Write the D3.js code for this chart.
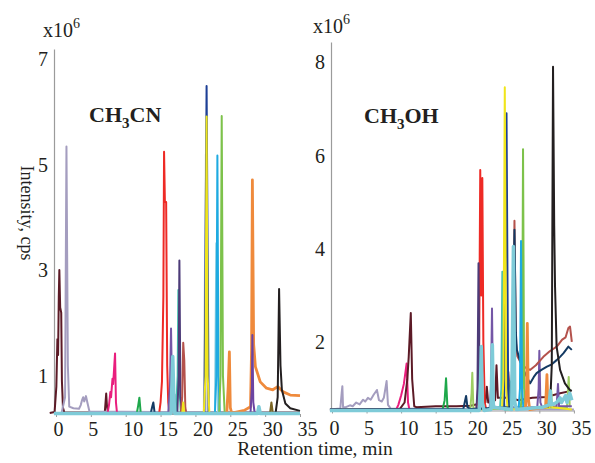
<!DOCTYPE html>
<html>
<head>
<meta charset="utf-8">
<script src="https://cdn.jsdelivr.net/npm/d3@7"></script>
<style>
  body { margin: 0; background: #fff; }
  svg text { font-family: "Liberation Serif", "Times New Roman", serif; fill: #231f20; }
</style>
</head>
<body>
<div class="canvas"></div>
<script>
// DATA: [retention time (min), intensity (x10^6 cps)]
const timeTicks = [0, 5, 10, 15, 20, 25, 30, 35];
const acnTicks = [1, 3, 5, 7];
const meohTicks = [2, 4, 6, 8];

// CH3CN panel
const acnSilver = [[21.2,0.3],[21.5,5.2],[21.7,0.3]];
const acnMaroon = [[-0.9,0.3],[-0.2,0.32],[0.05,0.8],[0.2,1.7],[0.3,1.4],[0.4,2.5],[0.48,3.01],[0.6,2.3],[0.75,2.2],[0.85,0.9],[1.0,0.4],[1.2,0.31],[7.0,0.31],[7.2,0.67],[7.3,0.45],[7.45,0.31],[35,0.31]];
const acnLavender = [[0.8,0.3],[1.3,0.6],[1.5,5.35],[1.7,1.2],[1.9,0.42],[2.5,0.39],[3.3,0.38],[3.55,0.45],[3.75,0.55],[3.9,0.6],[4.05,0.52],[4.3,0.62],[4.5,0.5],[4.8,0.33],[35,0.3]];
const acnPink = [[7.4,0.3],[7.6,0.45],[7.8,0.7],[7.9,0.6],[8.1,0.95],[8.2,0.85],[8.47,1.43],[8.6,0.5],[8.75,0.3]];
const acnGreen = [[11.6,0.3],[11.8,0.45],[11.96,0.59],[12.15,0.3]];
const acnNavy = [[13.6,0.3],[13.8,0.42],[13.96,0.5],[14.15,0.3]];
const acnRed = [[14.8,0.3],[15.0,0.5],[15.2,0.9],[15.4,2.5],[15.5,5.25],[15.62,4.3],[15.8,4.3],[15.95,1.2],[16.1,0.5],[16.3,0.3]];
const acnPurple = [[16.1,0.3],[16.35,0.8],[16.5,1.9],[16.65,0.7],[16.8,0.35],[17.0,0.65],[17.1,0.3]];
const acnTeal = [[17.2,0.3],[17.45,1.0],[17.55,2.63],[17.7,0.8],[17.9,0.3]];
const acnIndigo = [[17.4,0.3],[17.6,1.0],[17.7,3.19],[17.85,0.6],[18.1,0.3]];
const acnBrick = [[17.9,0.3],[18.1,0.6],[18.25,1.63],[18.4,1.3],[18.55,0.4],[18.7,0.3]];
const acnBlue = [[21.3,0.3],[21.6,6.5],[21.9,0.3]];
const acnYellow = [[18.1,0.3],[18.25,0.5],[18.4,0.3],[21.2,0.3],[21.45,1.0],[21.6,5.92],[21.75,1.0],[22.0,0.3]];
const acnPaleBlue = [[22.8,0.3],[23.0,3.52],[23.25,0.3]];
const acnSky = [[22.8,0.3],[23.0,1.0],[23.15,5.18],[23.3,1.0],[23.5,0.3]];
const acnLime = [[23.4,0.3],[23.6,1.0],[23.77,5.93],[23.95,1.0],[24.2,0.3]];
const acnOrange = [[24.5,0.3],[24.7,0.8],[24.87,1.46],[25.0,0.4],[25.2,0.3],[27.0,0.35],[27.9,0.42],[28.05,1.5],[28.17,4.72],[28.35,1.6],[28.6,1.18],[29.3,0.89],[30.2,0.77],[31.1,0.74],[31.8,0.8],[32.6,0.7],[33.6,0.64],[35,0.63]];
const acnViolet = [[27.9,0.3],[28.1,0.8],[28.17,1.78],[28.3,0.5],[28.5,0.3]];
const acnBlack = [[31.5,0.3],[31.8,0.6],[32.0,2.65],[32.2,1.2],[32.4,0.74],[32.9,0.48],[33.6,0.39],[35,0.34]];
const acnOlive = [[30.7,0.3],[30.9,0.5],[31.1,0.3]];
const acnCyan = [[-0.3,0.29],[16.5,0.29],[16.65,0.9],[16.75,1.37],[16.9,0.6],[17.05,0.29],[28.9,0.29],[29.1,0.42],[29.3,0.29],[35,0.29]];

// CH3OH panel
const meohLavender = [[-0.3,0.55],[1.2,0.57],[1.4,0.9],[1.5,1.05],[1.6,0.6],[2.0,0.6],[2.6,0.64],[3.0,0.62],[3.5,0.7],[4.0,0.66],[4.5,0.76],[4.8,0.72],[5.2,0.8],[5.6,0.76],[6.0,0.86],[6.5,0.97],[6.8,0.75],[7.2,0.72],[7.5,0.8],[7.9,1.16],[8.1,0.65],[8.5,0.57],[35,0.55]];
const meohPink = [[9.3,0.55],[9.6,0.65],[10.0,0.85],[10.4,1.1],[10.8,1.54],[11.0,0.7],[11.2,0.55]];
const meohMaroon = [[-0.3,0.55],[9.8,0.56],[10.5,0.7],[10.9,1.2],[11.1,1.68],[11.4,2.62],[11.6,1.2],[11.9,0.62],[12.2,0.6],[15,0.62],[18,0.62],[20,0.63],[22.2,0.7],[22.4,1.04],[22.6,0.7],[23.6,0.75],[23.8,1.5],[24.0,0.8],[25.3,0.8],[25.5,1.36],[25.7,0.8],[27,0.75],[29,0.8],[31,0.82],[33,0.9],[34.6,0.95]];
const meohGreen = [[16.0,0.55],[16.3,0.75],[16.5,1.22],[16.7,0.6],[16.9,0.55]];
const meohLightGreen = [[20.0,0.55],[20.2,0.9],[20.3,1.34],[20.45,0.6],[20.6,0.55],[34.0,0.6],[34.25,1.25],[34.4,0.6]];
const meohRed = [[20.9,0.55],[21.1,0.9],[21.3,2.1],[21.45,5.69],[21.6,3.0],[21.75,5.52],[21.9,2.0],[22.1,0.7],[22.3,0.55]];
const meohIndigo = [[20.9,0.55],[21.05,1.0],[21.2,3.69],[21.35,0.8],[21.5,0.55]];
const meohPurple = [[22.8,0.55],[23.0,1.0],[23.15,2.72],[23.3,0.8],[23.5,0.6],[29.7,0.6],[29.9,1.0],[30.0,1.81],[30.15,0.7],[30.4,0.6],[32.5,0.62],[32.7,1.1],[32.85,0.62],[34.7,0.62]];
const meohTeal = [[24.3,0.55],[24.5,1.0],[24.65,3.51],[24.8,0.8],[25.0,0.55],[25.7,0.55],[25.85,1.15],[26.0,0.55]];
const meohBlue = [[24.9,0.55],[25.25,6.91],[25.5,0.55]];
const meohYellow = [[24.6,0.55],[24.8,1.2],[25.0,7.47],[25.2,1.0],[25.4,0.55],[31.5,0.6],[31.7,0.97],[31.85,0.6],[34.7,0.55]];
const meohBrick = [[25.9,0.6],[26.2,1.5],[26.4,4.6],[26.6,2.0],[26.8,1.7],[27.5,1.5],[28.0,1.45],[28.65,1.4],[29.5,1.5],[30.58,1.68],[31.5,1.8],[32.52,1.9],[33.3,2.05],[33.8,2.1],[34.2,2.3],[34.44,2.33],[34.7,2.0]];
const meohNavy = [[-0.3,0.55],[19.0,0.56],[19.2,0.7],[19.4,0.84],[19.6,0.6],[20,0.56],[25.8,0.6],[26.1,1.5],[26.4,4.41],[26.6,2.2],[26.75,1.83],[27.2,1.6],[27.7,1.4],[28.2,1.25],[28.65,1.11],[29.2,1.25],[29.6,1.33],[30.3,1.4],[31.1,1.47],[31.8,1.52],[32.5,1.61],[33.0,1.68],[33.5,1.76],[34.2,1.9],[34.7,1.83]];
const meohSky = [[27.0,0.55],[27.2,1.0],[27.35,4.17],[27.5,1.0],[27.7,0.55]];
const meohLime = [[27.3,0.55],[27.5,1.0],[27.64,6.14],[27.8,1.0],[28.0,0.55]];
const meohOrange = [[28.0,0.55],[28.15,1.0],[28.26,2.4],[28.4,0.8],[28.6,0.55],[30.9,0.6],[31.1,1.3],[31.25,0.6]];
const meohBlack = [[31.2,0.6],[31.6,0.8],[31.8,1.5],[31.98,7.91],[32.15,4.5],[32.27,3.19],[32.5,1.9],[33.0,1.4],[33.7,1.11],[34.4,0.97],[34.7,0.95]];
const meohCyan = [[-0.3,0.53],[21.3,0.53],[21.5,1.2],[21.6,1.9],[21.75,0.7],[22.0,0.53],[23.0,0.55],[23.2,1.94],[23.35,0.6],[26.0,0.55],[26.25,4.05],[26.45,0.7],[26.7,0.55],[29.0,0.58],[30.5,0.6],[31.4,0.65],[31.6,0.95],[31.75,0.65],[32.5,0.7],[33.0,0.8],[33.2,0.7],[33.8,0.85],[34.0,0.7],[34.4,0.9],[34.7,0.75]];

// colours per compound trace
const colors = {
  silver: "#cfcfcf", maroon: "#5c1a26", lavender: "#a49dbf", pink: "#e91e7d",
  green: "#1ea84b", navy: "#133a63", red: "#ee2a25", purple: "#7456a6",
  teal: "#45c0ae", indigo: "#4c3b78", brick: "#b4524c", blue: "#1d3f96",
  yellow: "#f0e51c", paleblue: "#8fd0e2", sky: "#1eaae1", lime: "#7dc24b",
  orange: "#ef8a3c", violet: "#6b44a2", black: "#231f20", olive: "#7a6424",
  cyan: "#7ecbd8", lightgreen: "#9dcd62"
};

const acnTraces = [
  ["silver", acnSilver], ["maroon", acnMaroon], ["lavender", acnLavender], ["pink", acnPink],
  ["green", acnGreen], ["navy", acnNavy], ["red", acnRed], ["purple", acnPurple],
  ["teal", acnTeal], ["indigo", acnIndigo], ["brick", acnBrick], ["blue", acnBlue],
  ["yellow", acnYellow], ["paleblue", acnPaleBlue], ["sky", acnSky], ["lime", acnLime],
  ["orange", acnOrange], ["violet", acnViolet], ["black", acnBlack], ["olive", acnOlive],
  ["cyan", acnCyan]
];
const meohTraces = [
  ["lavender", meohLavender], ["pink", meohPink], ["maroon", meohMaroon], ["green", meohGreen],
  ["lightgreen", meohLightGreen], ["red", meohRed], ["indigo", meohIndigo], ["purple", meohPurple],
  ["teal", meohTeal], ["blue", meohBlue], ["yellow", meohYellow], ["brick", meohBrick],
  ["navy", meohNavy], ["lime", meohLime], ["sky", meohSky], ["orange", meohOrange],
  ["black", meohBlack], ["cyan", meohCyan]
];

// Dimensions
const W = 595, H = 463;

const panels = [
  { traces: acnTraces, ticks: acnTicks, title: ["CH", "3", "CN"], titleX: 89, titleY: 122,
    axisX: 54, xRange: [56, 300], yDomain: [0.3, 7.2], yRange: [413, 49],
    expX: 43, expY: 37, labelY: 436 },
  { traces: meohTraces, ticks: meohTicks, title: ["CH", "3", "OH"], titleX: 364, titleY: 123,
    axisX: 331, xRange: [332, 573.9], yDomain: [0.55, 8.44], yRange: [409.5, 42],
    expX: 313, expY: 33, labelY: 435 }
];

const svg = d3.select(".canvas")
  .append("svg")
  .attr("width", W)
  .attr("height", H);

svg.append("rect").attr("width", W).attr("height", H).attr("fill", "#fff");

panels.forEach(p => {
  const xScale = d3.scaleLinear().domain([0, 35]).range(p.xRange);
  const yScale = d3.scaleLinear().domain(p.yDomain).range(p.yRange);
  const g = svg.append("g");

  // y axis: grey line, labels only
  const yAxis = g.append("g")
    .attr("transform", `translate(${p.axisX},0)`)
    .call(d3.axisLeft(yScale).tickValues(p.ticks).tickSize(0).tickPadding(6).tickFormat(d3.format("d")));
  yAxis.select(".domain").attr("stroke", "#9b9b9b").attr("stroke-width", 1.2);
  yAxis.selectAll("text").attr("font-size", 20).attr("font-family", "Liberation Serif");

  // x axis
  const x0 = p.yRange[0];
  const xAxis = g.append("g")
    .attr("transform", `translate(0,${x0 + 1})`)
    .call(d3.axisBottom(xScale).tickValues(timeTicks).tickSize(3).tickSizeOuter(0).tickFormat(""));
  xAxis.select(".domain").attr("stroke", "#9b9b9b");
  xAxis.selectAll(".tick line").attr("stroke", "#9b9b9b");

  g.selectAll(".xlab")
    .data(timeTicks)
    .enter()
    .append("text")
    .attr("x", d => xScale(d) - 2.5)
    .attr("y", p.labelY)
    .attr("font-size", 20)
    .text(d => d);

  // traces
  const line = d3.line()
    .x(d => xScale(d[0]))
    .y(d => yScale(d[1]));

  g.selectAll(".trace")
    .data(p.traces)
    .enter()
    .append("path")
    .attr("d", d => line(d[1]))
    .attr("fill", "none")
    .attr("stroke", d => colors[d[0]])
    .attr("stroke-width", d => d[0] === "cyan" ? 3.5 : (d[0] === "orange" ? 2.8 : 2))
    .attr("stroke-linejoin", "round");

  // x10^6
  const ex = g.append("text").attr("x", p.expX).attr("y", p.expY).attr("font-size", 20);
  ex.append("tspan").text("x10");
  ex.append("tspan").attr("font-size", 14).attr("dy", -9).text("6");

  // solvent label
  const t = g.append("text").attr("x", p.titleX).attr("y", p.titleY)
    .attr("font-size", 22).attr("font-weight", "bold");
  t.append("tspan").text(p.title[0]);
  t.append("tspan").attr("font-size", 15).attr("dy", 6).text(p.title[1]);
  t.append("tspan").attr("dy", -6).text(p.title[2]);
});

// axis titles
svg.append("text")
  .attr("transform", "translate(21,213) rotate(90)")
  .attr("text-anchor", "middle")
  .attr("font-size", 18)
  .text("Intensity, cps");

svg.append("text")
  .attr("x", 315)
  .attr("y", 455)
  .attr("text-anchor", "middle")
  .attr("font-size", 19.5)
  .text("Retention time, min");
</script>
</body>
</html>
